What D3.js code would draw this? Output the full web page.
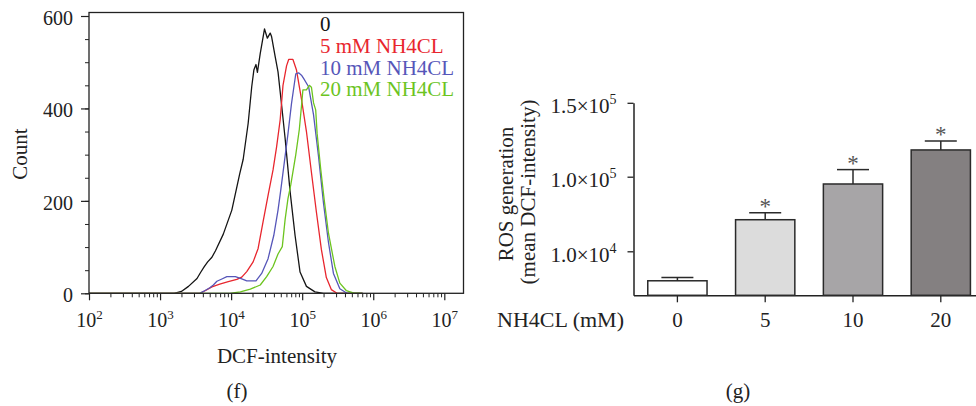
<!DOCTYPE html>
<html>
<head>
<meta charset="utf-8">
<script src="https://cdn.jsdelivr.net/npm/d3@7"></script>
<style>
  html, body { margin: 0; padding: 0; background: #fff; }
  svg { display: block; font-family: "Liberation Serif", "Times New Roman", serif; }
</style>
</head>
<body>
<svg id="chart" width="976" height="406"></svg>
<script>
// ---- Panel (f): DCF flow-cytometry histograms, [log10 intensity, count] ----
const histUntreated = [
  [2.00,0],[3.20,0],[3.30,4],[3.40,15],[3.52,32],[3.57,45],[3.62,57],[3.67,68],[3.73,78],
  [3.78,92],[3.89,128],[4.01,180],[4.12,258],[4.17,290],[4.24,368],[4.29,447],[4.32,483],
  [4.35,495],[4.37,478],[4.41,519],[4.47,572],[4.51,552],[4.55,563],[4.57,555],[4.62,512],
  [4.66,479],[4.71,408],[4.76,335],[4.83,220],[4.90,125],[4.97,46],[5.06,15],[5.18,3],
  [5.30,0],[5.85,0]
];
const hist5mM = [
  [2.00,0],[3.56,0],[3.64,6],[3.73,14],[3.84,20],[3.96,25],[4.08,30],[4.15,35],[4.22,47],
  [4.31,68],[4.38,97],[4.45,155],[4.52,212],[4.59,267],[4.64,317],[4.69,375],[4.73,450],
  [4.78,492],[4.81,506],[4.87,506],[4.92,483],[4.99,420],[5.06,350],[5.13,262],[5.20,176],
  [5.27,95],[5.34,34],[5.41,8],[5.49,0],[5.85,0]
];
const hist10mM = [
  [2.00,0],[3.56,0],[3.61,4],[3.70,12],[3.75,18],[3.80,26],[3.87,31],[3.94,36],[4.06,36],
  [4.15,31],[4.22,27],[4.35,27],[4.43,43],[4.52,75],[4.60,125],[4.66,180],[4.70,225],
  [4.75,285],[4.80,345],[4.85,411],[4.91,475],[4.95,477],[4.99,472],[5.02,465],[5.09,447],
  [5.16,386],[5.23,296],[5.30,195],[5.37,110],[5.44,43],[5.53,10],[5.63,0],[5.85,0]
];
const hist20mM = [
  [2.00,0],[3.98,0],[4.13,3],[4.27,9],[4.41,18],[4.50,36],[4.59,58],[4.66,85],[4.72,101],
  [4.76,160],[4.80,205],[4.84,235],[4.91,300],[4.96,355],[4.99,405],[5.01,440],[5.06,440],
  [5.10,450],[5.13,446],[5.16,412],[5.19,397],[5.21,346],[5.26,270],[5.31,202],[5.37,130],
  [5.46,58],[5.53,22],[5.62,6],[5.72,1],[5.85,0]
];
const histLabels = ["0", "5 mM NH4CL", "10 mM NH4CL", "20 mM NH4CL"];
const histColors = ["#151515", "#e8262e", "#5656b9", "#6cc41f"];
const countTicks = [0, 200, 400, 600];
const decadeExponents = [2, 3, 4, 5, 6, 7];

// ---- Panel (g): mean DCF intensity per NH4Cl dose ----
const doses = ["0", "5", "10", "20"];
const meanDCF = [3300, 48100, 91200, 118100];
const semDCF = [750, 8500, 13600, 6100];
const significant = [false, true, true, true];
const barFills = ["#ffffff", "#dcdcdc", "#a7a5a7", "#848081"];
const rosTicks = [1e4, 1e5, 1.5e5];

const svg = d3.select("#chart");
svg.append("rect").attr("width", 976).attr("height", 406).attr("fill", "#fff");

const TICK_FONT = 20;
const TITLE_FONT = 21;
const SERIF = "Liberation Serif";
const axisColor = "#222";
const textColor = "#222";

// ================= Panel (f) =================
const fL = 89, fR = 463.5, fT = 12.5, fB = 293.3;
const x = d3.scaleLog().domain([1e2, 1e7]).range([fL, 444.3]);
const y = d3.scaleLinear().domain([0, 600]).range([fB, 16]);

const panelF = svg.append("g");

// minor ticks on the log axis (2..9 within each decade)
const minorX = [];
for (let k = 2; k < 7; k++) for (let m = 2; m <= 9; m++) minorX.push(m * Math.pow(10, k));
panelF.append("g")
  .attr("transform", `translate(0,${fB})`)
  .call(d3.axisBottom(x).tickValues(minorX).tickSize(4).tickFormat(""))
  .call(g => g.select(".domain").remove())
  .call(g => g.selectAll("line").attr("stroke", axisColor).attr("stroke-width", 1));

const xAxisF = panelF.append("g")
  .attr("transform", `translate(0,${fB})`)
  .call(d3.axisBottom(x).tickValues(decadeExponents.map(e => Math.pow(10, e))).tickSize(7).tickSizeOuter(0));
xAxisF.select(".domain").remove();
xAxisF.selectAll("line").attr("stroke", axisColor).attr("stroke-width", 1.2);
xAxisF.selectAll(".tick text").each(function(d) {
  const t = d3.select(this).text(null)
    .attr("y", 34).attr("dy", 0)
    .attr("font-size", TICK_FONT).attr("font-family", SERIF).attr("fill", textColor);
  t.append("tspan").text("10");
  t.append("tspan").attr("dy", -8).attr("font-size", 13).text(Math.round(Math.log10(d)));
});

// minor count ticks every 50
panelF.append("g")
  .attr("transform", `translate(${fL},0)`)
  .call(d3.axisLeft(y).tickValues(d3.range(0, 601, 50)).tickSize(4).tickFormat(""))
  .call(g => g.select(".domain").remove())
  .call(g => g.selectAll("line").attr("stroke", axisColor).attr("stroke-width", 1));

const yAxisF = panelF.append("g")
  .attr("transform", `translate(${fL},0)`)
  .call(d3.axisLeft(y).tickValues(countTicks).tickSize(8).tickPadding(8).tickSizeOuter(0));
yAxisF.select(".domain").remove();
yAxisF.selectAll("line").attr("stroke", axisColor).attr("stroke-width", 1.2);
yAxisF.selectAll(".tick text")
  .attr("font-size", TICK_FONT).attr("font-family", SERIF).attr("fill", textColor)
  .attr("dy", "0.42em");

// histogram curves
panelF.append("clipPath").attr("id", "clipF")
  .append("rect").attr("x", fL).attr("y", fT).attr("width", fR - fL).attr("height", fB - fT);
const line = d3.line().x(d => x(Math.pow(10, d[0]))).y(d => y(d[1]));
const curves = [histUntreated, hist5mM, hist10mM, hist20mM];
panelF.append("g").attr("clip-path", "url(#clipF)")
  .selectAll("path").data(curves).join("path")
  .attr("d", line)
  .attr("fill", "none")
  .attr("stroke", (d, i) => histColors[i])
  .attr("stroke-width", 1.3)
  .attr("stroke-linejoin", "round");

// frame
panelF.append("rect")
  .attr("x", fL).attr("y", fT).attr("width", fR - fL).attr("height", fB - fT)
  .attr("fill", "none").attr("stroke", axisColor).attr("stroke-width", 1.3);

// legend
panelF.append("g").selectAll("text").data(histLabels).join("text")
  .attr("x", 320).attr("y", (d, i) => 31 + i * 21.8)
  .attr("font-size", TITLE_FONT).attr("font-family", SERIF)
  .attr("fill", (d, i) => histColors[i])
  .text(d => d);

panelF.append("text")
  .attr("transform", "translate(27,154) rotate(-90)")
  .attr("text-anchor", "middle").attr("font-size", TITLE_FONT).attr("font-family", SERIF).attr("fill", textColor)
  .text("Count");
panelF.append("text")
  .attr("x", 277).attr("y", 363).attr("text-anchor", "middle")
  .attr("font-size", TITLE_FONT).attr("font-family", SERIF).attr("fill", textColor)
  .text("DCF-intensity");
panelF.append("text")
  .attr("x", 237).attr("y", 398).attr("text-anchor", "middle")
  .attr("font-size", TITLE_FONT).attr("font-family", SERIF).attr("fill", textColor)
  .text("(f)");

// ================= Panel (g) =================
const gL = 633.5, gB = 295.3;
// segmented value axis: each labelled break sits at its own evenly spaced position
const yR = d3.scaleLinear()
  .domain([0].concat(rosTicks))
  .range([gB, 251.3, 176.7, 102.8]);
const xR = d3.scaleBand().domain(doses)
  .range([gL, gL + 4 * 87.8])
  .paddingInner(0.325).paddingOuter(0.1625);

const panelG = svg.append("g");

const yAxisG = panelG.append("g")
  .attr("transform", `translate(${gL},0)`)
  .call(d3.axisLeft(yR).tickValues(rosTicks).tickSize(6).tickPadding(11).tickSizeOuter(0));
yAxisG.select(".domain").attr("stroke", axisColor).attr("stroke-width", 1.5);
yAxisG.selectAll("line").attr("stroke", axisColor).attr("stroke-width", 1.3);
yAxisG.selectAll(".tick text").each(function(d) {
  const e = Math.floor(Math.log10(d));
  const mant = (d / Math.pow(10, e)).toFixed(1);
  const t = d3.select(this).text(null)
    .attr("y", 10).attr("dy", 0)
    .attr("font-size", 21).attr("font-family", SERIF).attr("fill", textColor);
  t.append("tspan").text(mant + "\u00d710");
  t.append("tspan").attr("dy", -9).attr("font-size", 14).text(e);
});

const xAxisG = panelG.append("g")
  .attr("transform", `translate(0,${gB})`)
  .call(d3.axisBottom(xR).tickSize(7).tickSizeOuter(0));
xAxisG.select(".domain").attr("stroke", axisColor).attr("stroke-width", 1.5);
xAxisG.selectAll("line").attr("stroke", axisColor).attr("stroke-width", 1.3);
xAxisG.selectAll(".tick text")
  .attr("y", 31.4).attr("dy", 0)
  .attr("font-size", 21).attr("font-family", SERIF).attr("fill", textColor);

// bars
panelG.append("g").selectAll("rect").data(doses).join("rect")
  .attr("x", d => xR(d))
  .attr("width", xR.bandwidth())
  .attr("y", (d, i) => yR(meanDCF[i]))
  .attr("height", (d, i) => yR(0) - yR(meanDCF[i]))
  .attr("fill", (d, i) => barFills[i])
  .attr("stroke", "#2a2a2a").attr("stroke-width", 1.5);

// upper error bars and significance marks
const capW = 32;
const err = panelG.append("g").attr("stroke", "#2a2a2a").attr("stroke-width", 1.5);
doses.forEach((d, i) => {
  const cx = xR(d) + xR.bandwidth() / 2;
  const top = yR(meanDCF[i] + semDCF[i]);
  err.append("line").attr("x1", cx).attr("x2", cx).attr("y1", yR(meanDCF[i])).attr("y2", top);
  err.append("line").attr("x1", cx - capW / 2).attr("x2", cx + capW / 2).attr("y1", top).attr("y2", top);
  if (significant[i]) {
    panelG.append("text")
      .attr("x", cx).attr("y", top + 1).attr("text-anchor", "middle")
      .attr("font-size", 23).attr("font-family", SERIF).attr("fill", "#555")
      .text("*");
  }
});

panelG.append("text")
  .attr("x", 624).attr("y", 326.7).attr("text-anchor", "end")
  .attr("font-size", 22).attr("font-family", SERIF).attr("fill", textColor)
  .text("NH4CL (mM)");

panelG.append("text")
  .attr("transform", "translate(513,194) rotate(-90)")
  .attr("text-anchor", "middle").attr("font-size", TITLE_FONT).attr("font-family", SERIF).attr("fill", textColor)
  .text("ROS generation");
panelG.append("text")
  .attr("transform", "translate(535,192) rotate(-90)")
  .attr("text-anchor", "middle").attr("font-size", TITLE_FONT).attr("font-family", SERIF).attr("fill", textColor)
  .text("(mean DCF-intensity)");

panelG.append("text")
  .attr("x", 738).attr("y", 398).attr("text-anchor", "middle")
  .attr("font-size", TITLE_FONT).attr("font-family", SERIF).attr("fill", textColor)
  .text("(g)");
</script>
</body>
</html>
